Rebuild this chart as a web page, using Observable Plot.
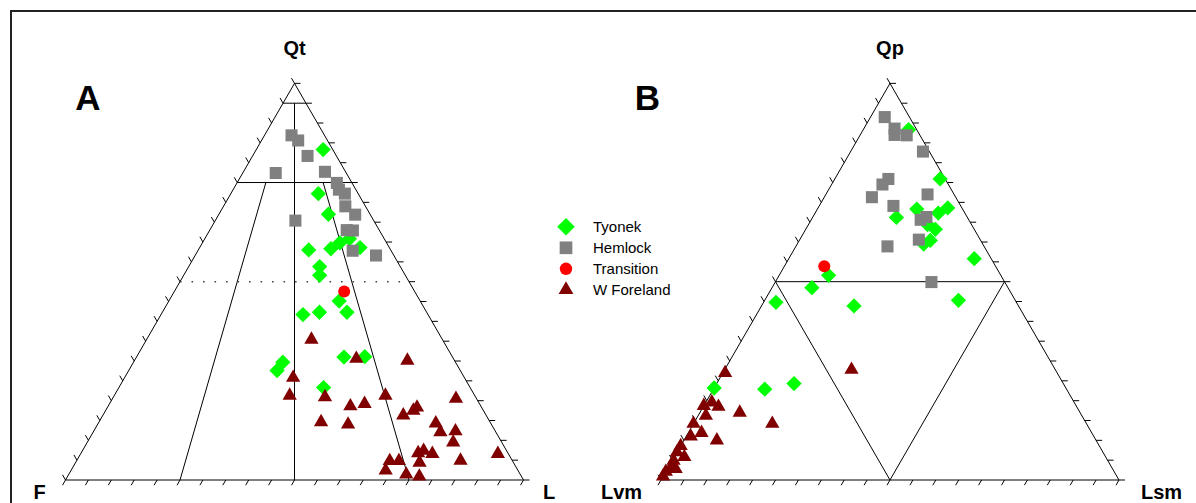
<!DOCTYPE html>
<html><head><meta charset="utf-8">
<script src="https://cdn.jsdelivr.net/npm/d3@7"></script>
<script src="https://cdn.jsdelivr.net/npm/@observablehq/plot@0.6"></script>
<style>
html,body{margin:0;padding:0;background:#fff;overflow:hidden;}
#wrap{position:relative;width:1196px;height:503px;overflow:hidden;}
#frame{position:absolute;left:10px;top:10px;width:1400px;height:700px;border-left:2px solid #222;border-top:2px solid #222;}
#chart{position:absolute;left:0;top:0;}
#legend{position:absolute;left:540px;top:205px;overflow:visible;}
</style></head><body>
<div id="wrap"><div id="frame"></div><div id="chart"></div><svg id="legend" width="160" height="100"></svg></div>
<script>
// ---- Data: ternary compositions in percent ----
// Panel A: [Qt, F, L]
const tyonekA = [[83.3,2.1,14.6],[72.2,8.7,19.1],[67.0,9.1,23.9],[58.0,17.9,24.1],[58.3,12.9,28.8],[59.8,10.2,30.0],[60.8,7.6,31.6],[58.6,6.4,35.0],[53.8,17.6,28.6],[51.6,18.7,29.7],[45.1,17.7,37.2],[41.7,27.3,31.0],[42.3,23.4,34.3],[42.3,17.4,40.3],[31.0,23.7,45.3],[31.1,19.1,49.8],[29.7,37.7,32.6],[27.6,40.0,32.4],[23.3,32.0,44.7]];
const hemlockA = [[86.9,7.2,5.9],[85.6,6.4,8.0],[81.7,6.3,12.0],[77.4,15.4,7.2],[77.7,4.5,17.8],[74.9,3.3,21.8],[73.2,3.7,23.1],[72.2,2.9,24.9],[69.0,4.4,26.6],[66.9,3.3,29.8],[65.4,17.1,17.5],[63.0,7.1,29.9],[62.9,5.8,31.3],[57.8,8.4,33.8],[56.6,3.9,39.5]];
const transitionA = [[47.5,15.4,37.1]];
const wforelandA = [[35.4,28.6,36.0],[30.6,21.2,48.2],[30.1,10.3,59.6],[25.8,37.4,36.8],[21.3,40.4,38.3],[20.9,32.9,46.2],[21.3,19.5,59.2],[20.5,4.5,75.0],[18.6,28.5,52.9],[19.2,25.1,55.7],[14.6,36.9,48.5],[14.0,31.3,54.7],[16.3,18.1,65.6],[17.5,15.3,67.2],[18.3,14.1,67.6],[14.3,12.0,73.7],[12.1,12.1,75.8],[12.3,8.7,79.0],[9.5,10.6,79.9],[6.6,2.3,91.1],[4.9,11.3,83.8],[6.8,19.6,73.6],[7.4,18.1,74.5],[6.6,16.6,76.8],[4.4,20.5,75.1],[4.8,26.8,68.4],[4.8,24.8,70.4],[2.4,28.9,68.7],[1.4,24.9,73.7],[0.9,22.3,76.8]];
// Panel B: [Qp, Lvm, Lsm]
const tyonekB = [[88.3,1.8,9.9],[75.9,1.1,23.0],[68.3,10.0,21.7],[66.2,15.5,18.3],[67.3,5.8,26.9],[68.6,3.1,28.3],[63.2,8.5,28.3],[64.4,9.6,26.0],[60.4,11.0,28.6],[59.5,12.9,27.6],[55.8,3.7,40.5],[51.6,37.6,10.8],[48.5,42.8,8.7],[44.8,52.5,2.7],[43.9,35.9,20.2],[45.3,12.4,42.3],[24.3,58.8,16.9],[22.9,65.9,11.2],[23.2,76.8,0.0]];
const hemlockB = [[91.5,5.4,3.1],[88.6,4.7,6.7],[87.0,5.5,7.5],[86.9,2.9,10.2],[82.8,1.4,15.8],[75.9,12.4,11.7],[74.5,14.4,11.1],[71.3,18.3,10.4],[72.0,5.8,22.2],[69.1,14.7,16.2],[66.3,8.9,24.8],[65.6,10.5,23.9],[60.6,13.4,26.0],[58.9,21.1,20.0],[49.9,16.0,34.1]];
const transitionB = [[53.9,37.4,8.7]];
const wforelandB = [[27.8,44.5,27.7],[27.0,72.5,0.5],[19.6,79.1,1.3],[18.7,81.3,0.0],[18.5,78.2,3.3],[16.2,82.1,1.7],[17.0,74.3,8.7],[14.2,68.6,17.2],[14.2,85.8,0.0],[11.9,85.2,2.9],[11.0,88.0,1.0],[10.0,82.8,7.2],[8.6,91.4,0.0],[7.0,93.0,0.0],[5.8,92.0,2.2],[4.9,94.8,0.3],[3.2,96.2,0.6],[2.8,95.4,1.8],[2.1,97.9,0.0],[0.9,99.1,0.0]];

// series names / legend
const seriesNames = ["Tyonek","Hemlock","Transition","W Foreland"];
const seriesColors = ["#00ff00","#808080","#ff0000","#800000"];
// corner labels: [top, left, right]
const cornerLabelsA = ["Qt","F","L"];
const cornerLabelsB = ["Qp","Lvm","Lsm"];
const panelLetters = ["A","B"];
// tick positions along each side (percent)
const tickValues = [0,5,10,15,20,25,30,35,40,45,50,55,60,65,70,75,80,85,90,95,100];
// field boundaries (pairs of compositions)
const fieldA = [
  {a:[95,5,0], b:[95,0,5], dotted:false},
  {a:[95,2.5,2.5], b:[0,50,50], dotted:false},
  {a:[75,25,0], b:[75,0,25], dotted:false},
  {a:[75,18.75,6.25], b:[0,75,25], dotted:false},
  {a:[75,6.25,18.75], b:[0,25,75], dotted:false},
  {a:[50,50,0], b:[50,0,50], dotted:true}
];
const fieldB = [
  {a:[50,50,0], b:[50,0,50], dotted:false},
  {a:[50,50,0], b:[0,50,50], dotted:false},
  {a:[50,0,50], b:[0,50,50], dotted:false}
];

// ---- geometry ----
const S = Math.sqrt(3) / 2;
const OFF = {A: 0, B: 1.3002};
function pt(c, p) { const [q, a, b] = c; const t = q + a + b; return {x: OFF[p] + (b + q / 2) / t, y: (q / t) * S}; }
const TL = 6 / 458;
const FONT = "Liberation Sans, Arial, Helvetica, sans-serif";

const marks = [];
for (const p of ["A", "B"]) {
  const corners = [[100,0,0],[0,100,0],[0,0,100],[100,0,0]];
  marks.push(Plot.line(corners.map(c => pt(c, p)), {x: "x", y: "y", stroke: "#000", strokeWidth: 1}));
  const ticks = [];
  for (const v of tickValues) {
    const base = pt([0, 100 - v, v], p); ticks.push({x1: base.x, y1: base.y, x2: base.x - 0.5 * TL, y2: base.y - S * TL});
    const right = pt([100 - v, 0, v], p); ticks.push({x1: right.x, y1: right.y, x2: right.x + TL, y2: right.y});
    const left = pt([v, 100 - v, 0], p); ticks.push({x1: left.x, y1: left.y, x2: left.x - 0.5 * TL, y2: left.y + S * TL});
  }
  marks.push(Plot.link(ticks, {x1: "x1", y1: "y1", x2: "x2", y2: "y2", stroke: "#000", strokeWidth: 1}));
  const field = (p === "A" ? fieldA : fieldB).map(f => { const A = pt(f.a, p), B = pt(f.b, p); return {x1: A.x, y1: A.y, x2: B.x, y2: B.y, dotted: f.dotted}; });
  marks.push(Plot.link(field.filter(d => !d.dotted), {x1: "x1", y1: "y1", x2: "x2", y2: "y2", stroke: "#000", strokeWidth: 1}));
  marks.push(Plot.link(field.filter(d => d.dotted), {x1: "x1", y1: "y1", x2: "x2", y2: "y2", stroke: "#444", strokeWidth: 1.5, strokeDasharray: "1.6,9.9"}));
}

const sets = {
  A: [tyonekA, hemlockA, transitionA, wforelandA],
  B: [tyonekB, hemlockB, transitionB, wforelandB]
};
const symbols = [d3.symbolDiamond2, "square", "circle", "triangle"];
const radii = [6.9, 6.8, 6.0, 5.3];
for (let i = 0; i < 4; i++) {
  for (const p of ["A", "B"]) {
    marks.push(Plot.dot(sets[p][i].map(c => pt(c, p)), {x: "x", y: "y", symbol: () => symbols[i], r: radii[i], fill: seriesColors[i], stroke: "none"}));
  }
}

// corner labels
const labels = [];
[["A", cornerLabelsA], ["B", cornerLabelsB]].forEach(([p, names]) => {
  const top = pt([100,0,0], p), left = pt([0,100,0], p), right = pt([0,0,100], p);
  labels.push({...top, text: names[0], dx: 0, dy: -34.8});
  labels.push({...left, text: names[1], dx: p === "A" ? -26 : -39.5, dy: 12.1});
  labels.push({...right, text: names[2], dx: p === "A" ? 25.5 : 42.5, dy: 12.1});
});
for (const l of labels) {
  marks.push(Plot.text([l], {x: "x", y: "y", text: "text", dx: l.dx, dy: l.dy, fontSize: 20, fontWeight: "bold", fontFamily: FONT, fill: "#000"}));
}
const letterDx = {A: -206.7, B: -242.5};
panelLetters.forEach(p => {
  marks.push(Plot.text([pt([100,0,0], p)], {x: "x", y: "y", text: () => p, dx: letterDx[p], dy: 15.9, fontSize: 35, fontWeight: "bold", fontFamily: FONT, fill: "#000"}));
});

const chart = Plot.plot({
  width: 1196, height: 503,
  marginTop: 0, marginBottom: 0, marginLeft: 0, marginRight: 0,
  x: {domain: [-65 / 458, (1196 - 65) / 458], range: [0, 1196], axis: null},
  y: {domain: [-23.5 / 458, 479.5 / 458], range: [503, 0], axis: null},
  style: {fontFamily: FONT, background: "transparent", overflow: "visible"},
  marks
});
document.getElementById("chart").appendChild(chart);

// legend
const leg = d3.select("#legend");
const legSym = [d3.symbolDiamond2, d3.symbolSquare, d3.symbolCircle, d3.symbolTriangle];
const legSize = [197, 161, 121, 95];
seriesNames.forEach((name, i) => {
  const g = leg.append("g").attr("transform", `translate(26,${21.8 + i * 21})`);
  g.append("path").attr("d", d3.symbol(legSym[i], legSize[i])()).attr("fill", seriesColors[i]);
  g.append("text").attr("x", 27).attr("y", 5.3).attr("font-family", FONT).attr("font-size", 15).attr("fill", "#000").text(name);
});
</script>
</body></html>
